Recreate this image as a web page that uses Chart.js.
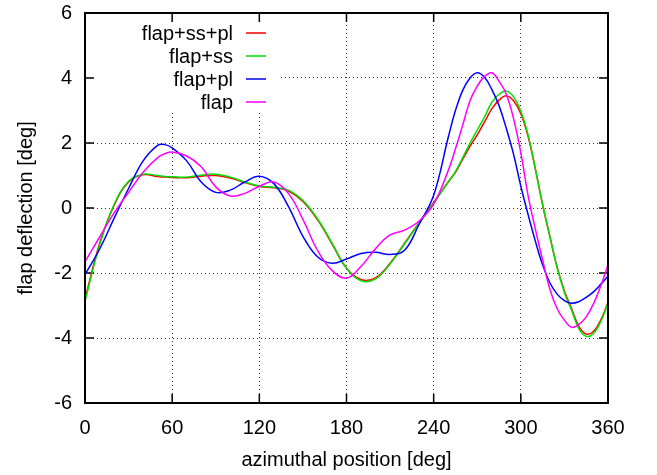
<!DOCTYPE html>
<html>
<head>
<meta charset="utf-8">
<script src="https://cdn.jsdelivr.net/npm/chart.js@4.4.1/dist/chart.umd.min.js"></script>
<style>
  body { margin: 0; background: #fff; }
</style>
</head>
<body>
<canvas id="myChart" width="657" height="475"></canvas>
<script>
let angles = [0, 10, 20, 30, 40, 50, 55, 60, 70, 80, 90, 100, 110, 120, 130, 140, 150, 160, 170, 180,
  190, 200, 210, 220, 230, 240, 250, 255, 260, 265, 270, 275, 280, 285, 290, 295, 300, 305, 310,
  315, 320, 325, 330, 335, 340, 345, 350, 355, 360];

let flapSsPl = [-2.8, -1.1, 0.08, 0.8, 1.02, 0.97, 0.95, 0.94, 0.93, 0.98, 1.0, 0.92, 0.78, 0.66, 0.62, 0.52, 0.2, -0.36, -1.1, -1.85,
  -2.2, -2.15, -1.7, -1.08, -0.45, 0.17, 0.8, 1.1, 1.5, 1.9, 2.25, 2.65, 3.05, 3.32, 3.45, 3.3, 2.9, 2.2, 1.2,
  0.1, -0.88, -1.82, -2.55, -3.1, -3.65, -3.88, -3.8, -3.45, -2.9];

let flapSs = [-2.87, -1.15, 0.1, 0.82, 1.04, 1.0, 0.97, 0.96, 0.95, 1.01, 1.04, 0.95, 0.8, 0.68, 0.64, 0.55, 0.23, -0.33, -1.08, -1.85,
  -2.24, -2.18, -1.72, -1.1, -0.47, 0.15, 0.8, 1.12, 1.55, 1.99, 2.4, 2.8, 3.25, 3.5, 3.6, 3.42, 2.98, 2.25, 1.2,
  0.1, -0.87, -1.84, -2.6, -3.15, -3.72, -3.95, -3.86, -3.5, -2.93];

let flapPl = [-2.05, -1.27, -0.32, 0.6, 1.45, 1.93, 1.95, 1.85, 1.45, 0.8, 0.48, 0.55, 0.8, 0.98, 0.75, 0.05, -0.87, -1.5, -1.7, -1.57,
  -1.4, -1.36, -1.43, -1.3, -0.5, 0.39, 2.17, 3.0, 3.62, 4.0, 4.16, 4.02, 3.65, 3.15, 2.45, 1.65, 0.67, -0.2, -1.02,
  -1.75, -2.3, -2.65, -2.85, -2.93, -2.88, -2.75, -2.58, -2.35, -2.1];

let flapOnly = [-1.65, -0.9, -0.15, 0.48, 1.1, 1.55, 1.67, 1.72, 1.6, 1.27, 0.65, 0.37, 0.45, 0.67, 0.8, 0.45, -0.35, -1.3, -1.92, -2.16,
  -1.8, -1.25, -0.83, -0.68, -0.4, 0.12, 1.15, 1.82, 2.55, 3.3, 3.75, 4.05, 4.16, 3.9, 3.5, 2.75, 1.7, 0.38, -0.65,
  -1.6, -2.5, -3.1, -3.45, -3.67, -3.58, -3.35, -2.95, -2.4, -1.75];

let seriesNames = ["flap+ss+pl", "flap+ss", "flap+pl", "flap"];
let seriesColors = ["#ff0000", "#00e000", "#0000ff", "#ff00ff"];
let seriesValues = [flapSsPl, flapSs, flapPl, flapOnly];

let xTicks = [0, 60, 120, 180, 240, 300, 360];
let yTicks = [-6, -4, -2, 0, 2, 4, 6];

const FONT = "'Liberation Sans', Arial, sans-serif";

function toPoints(values) {
  return angles.map((a, i) => ({ x: a, y: values[i] }));
}

// gnuplot-like frame: white key box over the grid, inward ticks, key on top
let gnuplotFrame = {
  id: "gnuplotFrame",
  beforeDatasetsDraw(chart) {
    let ctx = chart.ctx;
    let a = chart.chartArea;
    ctx.save();
    ctx.fillStyle = "#fff";
    ctx.fillRect(a.left + 1, a.top + 1, 192, 99);
    ctx.strokeStyle = "#000";
    ctx.lineWidth = 1.5;
    ctx.beginPath();
    let xs = chart.scales.x;
    let ys = chart.scales.y;
    xTicks.forEach((t) => {
      let px = xs.getPixelForValue(t);
      ctx.moveTo(px, a.bottom);
      ctx.lineTo(px, a.bottom - 9);
      ctx.moveTo(px, a.top);
      ctx.lineTo(px, a.top + 9);
    });
    yTicks.forEach((t) => {
      let py = ys.getPixelForValue(t);
      ctx.moveTo(a.left, py);
      ctx.lineTo(a.left + 9, py);
      ctx.moveTo(a.right, py);
      ctx.lineTo(a.right - 9, py);
    });
    ctx.stroke();
    ctx.restore();
  },
  afterDraw(chart) {
    let ctx = chart.ctx;
    let a = chart.chartArea;
    ctx.save();
    ctx.strokeStyle = "#000";
    ctx.lineWidth = 2;
    ctx.strokeRect(a.left, a.top, a.right - a.left, a.bottom - a.top);

    ctx.font = "20px " + FONT;
    ctx.textAlign = "right";
    ctx.textBaseline = "middle";
    chart.data.datasets.forEach((ds, i) => {
      let y = a.top + 20 + i * 23;
      ctx.fillStyle = "#000";
      ctx.fillText(ds.label, a.left + 148, y + 1);
      ctx.strokeStyle = ds.borderColor;
      ctx.lineWidth = 1.5;
      ctx.beginPath();
      ctx.moveTo(a.left + 161, y);
      ctx.lineTo(a.left + 181, y);
      ctx.stroke();
    });
    ctx.restore();
  },
};

let ctx = document.getElementById("myChart").getContext("2d");

let flapChart = new Chart(ctx, {
  type: "line",
  data: {
    datasets: seriesNames.map((name, i) => ({
      label: name,
      data: toPoints(seriesValues[i]),
      borderColor: seriesColors[i],
      backgroundColor: seriesColors[i],
      borderWidth: 1.5,
      pointRadius: 0,
      tension: 0.4,
      fill: false,
      order: 4 - i,
    })),
  },
  options: {
    responsive: false,
    animation: false,
    events: [],
    layout: {
      padding: { top: 13, right: 49, left: 0, bottom: 0 },
    },
    plugins: {
      legend: { display: false },
      tooltip: { enabled: false },
    },
    scales: {
      x: {
        type: "linear",
        min: 0,
        max: 360,
        afterFit: (s) => { s.height = 72; s.paddingLeft = 0; s.paddingRight = 0; },
        afterBuildTicks: (s) => { s.ticks = xTicks.map((v) => ({ value: v })); },
        ticks: {
          color: "#000",
          padding: 13,
          maxRotation: 0,
          font: { family: FONT, size: 20 },
        },
        grid: { color: "#333", lineWidth: 1, drawTicks: false },
        border: { display: false, dash: [1, 3] },
        title: {
          display: true,
          text: "azimuthal position [deg]",
          color: "#000",
          font: { family: FONT, size: 20 },
          padding: { top: 0, bottom: 3 },
        },
      },
      y: {
        min: -6,
        max: 6,
        afterFit: (s) => { s.width = 85; s.paddingTop = 0; s.paddingBottom = 0; },
        afterBuildTicks: (s) => { s.ticks = yTicks.map((v) => ({ value: v })); },
        ticks: {
          color: "#000",
          padding: 13,
          font: { family: FONT, size: 20 },
        },
        grid: { color: "#333", lineWidth: 1, drawTicks: false },
        border: { display: false, dash: [1, 3] },
        title: {
          display: true,
          text: "flap deflection [deg]",
          color: "#000",
          font: { family: FONT, size: 20 },
          padding: { top: 14, bottom: 0 },
        },
      },
    },
  },
  plugins: [gnuplotFrame],
});
</script>
</body>
</html>
